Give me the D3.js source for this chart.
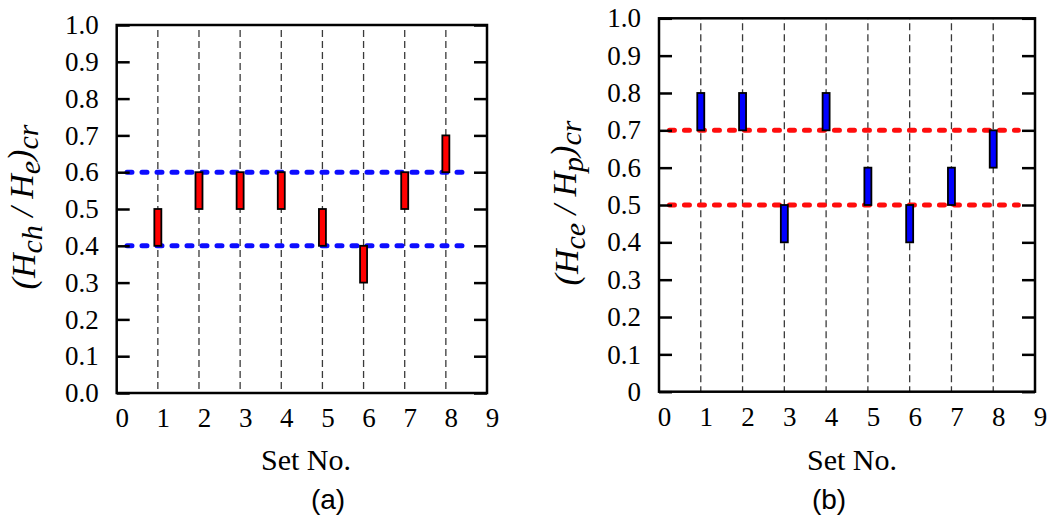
<!DOCTYPE html>
<html lang="en">
<head>
<meta charset="UTF-8">
<script src="https://d3js.org/d3.v7.min.js"></script>
<style>
  body { margin:0; background:#fff; }
</style>
</head>
<body>
<script>
// data
var setNos = [1, 2, 3, 4, 5, 6, 7, 8];
var xTicks = [0, 1, 2, 3, 4, 5, 6, 7, 8, 9];
var yTicks = [0, 0.1, 0.2, 0.3, 0.4, 0.5, 0.6, 0.7, 0.8, 0.9, 1.0];
var aYLabels = ["0.0", "0.1", "0.2", "0.3", "0.4", "0.5", "0.6", "0.7", "0.8", "0.9", "1.0"];
var bYLabels = ["0", "0.1", "0.2", "0.3", "0.4", "0.5", "0.6", "0.7", "0.8", "0.9", "1.0"];
var aLow  = [0.4, 0.5, 0.5, 0.5, 0.4, 0.3, 0.5, 0.6];
var aHigh = [0.5, 0.6, 0.6, 0.6, 0.5, 0.4, 0.6, 0.7];
var bLow  = [0.7, 0.7, 0.4, 0.7, 0.5, 0.4, 0.5, 0.6];
var bHigh = [0.8, 0.8, 0.5, 0.8, 0.6, 0.5, 0.6, 0.7];
var aLimits = [0.4, 0.6];
var bLimits = [0.5, 0.7];

var svg = d3.select("body").append("svg")
    .attr("width", 1050)
    .attr("height", 517)
    .attr("font-family", "Liberation Serif");

function drawPanel(p) {
  var x = d3.scaleLinear().domain([0, 9]).range([p.left, p.right]);
  var y = d3.scaleLinear().domain([0, 1]).range([p.bottom, p.top]);
  var g = svg.append("g");

  // vertical dashed guides at each set
  g.selectAll(".guide").data(setNos).enter().append("line")
    .attr("class", "guide")
    .attr("x1", function(d) { return x(d); })
    .attr("x2", function(d) { return x(d); })
    .attr("y1", y(1))
    .attr("y2", y(0))
    .attr("stroke", "#3a3a3a")
    .attr("stroke-width", 1.3)
    .attr("stroke-dasharray", "7,4")
    .attr("stroke-dashoffset", -5);

  // limit lines
  g.selectAll(".limit").data(p.limits).enter().append("line")
    .attr("class", "limit")
    .attr("x1", x(0.25))
    .attr("x2", x(8.6))
    .attr("y1", function(d) { return y(d); })
    .attr("y2", function(d) { return y(d); })
    .attr("stroke", p.limitColor)
    .attr("stroke-width", 5)
    .attr("stroke-linecap", "round")
    .attr("stroke-dasharray", "5,10");

  // range bars
  g.selectAll(".bar").data(setNos).enter().append("rect")
    .attr("class", "bar")
    .attr("x", function(d) { return x(d) - 3.5; })
    .attr("width", 7)
    .attr("y", function(d, i) { return y(p.high[i]); })
    .attr("height", function(d, i) { return y(p.low[i]) - y(p.high[i]); })
    .attr("fill", p.barColor)
    .attr("stroke", "#000")
    .attr("stroke-width", 1.8);

  // axes
  var left = g.append("g")
    .attr("transform", "translate(" + p.left + ",0)")
    .call(d3.axisLeft(y).tickValues(yTicks).tickSize(-13).tickPadding(18)
      .tickFormat(function(d, i) { return p.yLabels[i]; }));
  var right = g.append("g")
    .attr("transform", "translate(" + p.right + ",0)")
    .call(d3.axisRight(y).tickValues(yTicks).tickSize(-13).tickFormat(""));
  var bottom = g.append("g")
    .attr("transform", "translate(0," + p.bottom + ")")
    .call(d3.axisBottom(x).tickValues(xTicks).tickSize(0).tickPadding(15).tickFormat(d3.format("d")));
  bottom.selectAll("text").attr("dx", 5);
  [left, right, bottom].forEach(function(a) {
    a.attr("font-family", "Liberation Serif").attr("font-size", 27);
    a.select(".domain").remove();
    a.selectAll("line").attr("stroke", "#000").attr("stroke-width", 2.5);
    a.selectAll("text").attr("fill", "#000");
  });

  // frame
  g.append("rect")
    .attr("x", p.left).attr("y", p.top)
    .attr("width", p.right - p.left).attr("height", p.bottom - p.top)
    .attr("fill", "none").attr("stroke", "#000").attr("stroke-width", 2.5);

  // axis titles
  g.append("text")
    .attr("x", p.titleX).attr("y", 470)
    .attr("text-anchor", "middle")
    .attr("font-family", "Liberation Serif")
    .attr("font-size", 30)
    .text("Set No.");

  var yl = g.append("text")
    .attr("transform", "translate(" + p.labelX + "," + p.labelY + ") rotate(-90)")
    .attr("text-anchor", "middle")
    .attr("font-family", "Liberation Serif")
    .attr("font-style", "italic")
    .attr("font-size", 34);
  p.labelParts.forEach(function(t) {
    yl.append("tspan")
      .attr("dy", t[1] ? "0.22em" : (t[2] ? "-0.25em" : null))
      .attr("font-size", t[1] ? 30 : null)
      .text(t[0]);
  });

  g.append("text")
    .attr("x", p.capX).attr("y", 509)
    .attr("text-anchor", "middle")
    .attr("font-family", "Liberation Sans")
    .attr("font-size", 28)
    .text(p.caption);
}

// label parts: [text, isSub, returnsFromSub]
drawPanel({
  left: 116.7, right: 487, top: 25, bottom: 393,
  low: aLow, high: aHigh, limits: aLimits, yLabels: aYLabels,
  barColor: "#ff0000", limitColor: "#0d0dff",
  titleX: 306, capX: 328, caption: "(a)",
  labelX: 35, labelY: 207,
  labelParts: [["(H", false, false], ["ch", true, false], [" / H", false, true],
               ["e", true, false], [")", false, true], ["cr", true, false]]
});

drawPanel({
  left: 659, right: 1035, top: 18.3, bottom: 391.7,
  low: bLow, high: bHigh, limits: bLimits, yLabels: bYLabels,
  barColor: "#0000ff", limitColor: "#ff0d0d",
  titleX: 852, capX: 829, caption: "(b)",
  labelX: 578, labelY: 203,
  labelParts: [["(H", false, false], ["ce", true, false], [" / H", false, true],
               ["p", true, false], [")", false, true], ["cr", true, false]]
});
</script>
</body>
</html>
